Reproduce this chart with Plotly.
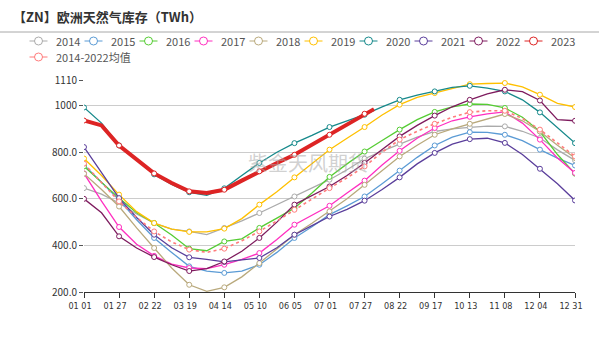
import plotly.graph_objects as go

# ---------------- data ----------------
days = list(range(0, 365, 13))          # day-of-year grid (0..364)
tick_days = list(range(0, 365, 26))
tick_labels = ["01 01", "01 27", "02 22", "03 19", "04 14", "05 10", "06 05", "07 01",
               "07 27", "08 22", "09 17", "10 13", "11 08", "12 04", "12 31"]
y_ticks = [200, 400, 600, 800, 1000, 1110]
y_tick_labels = ["200.0", "400.0", "600.0", "800.0", "1000", "1110"]

s2014 = [646, 620, 582, 535, 496, 470, 460, 446, 475, 505, 539, 575, 610, 645, 682, 725, 772, 805, 835, 865, 889, 900, 907, 912, 911, 890, 861, 810, 765]
s2015 = [745, 670, 596, 510, 432, 370, 310, 290, 282, 290, 317, 370, 432, 480, 532, 570, 610, 665, 721, 778, 829, 865, 886, 885, 875, 850, 811, 775, 743]
s2016 = [739, 670, 603, 540, 496, 445, 386, 377, 417, 428, 475, 517, 560, 625, 694, 750, 803, 850, 897, 940, 973, 995, 1007, 1005, 990, 950, 889, 790, 708]
s2017 = [709, 590, 479, 405, 355, 320, 303, 300, 317, 340, 367, 425, 489, 530, 570, 625, 678, 745, 806, 860, 904, 935, 952, 965, 973, 925, 854, 775, 711]
s2018 = [708, 640, 567, 475, 389, 303, 231, 203, 220, 265, 324, 385, 446, 495, 546, 600, 660, 720, 782, 830, 875, 900, 922, 945, 964, 935, 889, 830, 775]
s2019 = [773, 700, 618, 545, 496, 470, 458, 458, 472, 515, 575, 630, 692, 752, 811, 860, 908, 960, 1004, 1035, 1054, 1075, 1092, 1095, 1097, 1080, 1047, 1010, 994]
s2020 = [992, 925, 829, 766, 705, 662, 628, 615, 645, 700, 754, 800, 839, 872, 908, 935, 961, 995, 1025, 1045, 1061, 1078, 1085, 1075, 1061, 1025, 971, 905, 839]
s2021 = [822, 710, 603, 520, 446, 390, 349, 340, 329, 338, 346, 390, 446, 485, 524, 555, 592, 640, 692, 750, 797, 835, 856, 860, 840, 790, 729, 665, 593]
s2022 = [600, 540, 439, 389, 350, 317, 290, 300, 331, 375, 432, 500, 575, 615, 653, 700, 754, 812, 868, 915, 957, 995, 1025, 1050, 1068, 1060, 1022, 940, 935]
days2023 = [0, 13, 26, 39, 52, 65, 78, 91, 104, 117, 130, 143, 156, 169, 182, 195, 208, 215]
s2023 = [936, 915, 829, 768, 709, 668, 632, 625, 639, 678, 718, 754, 789, 832, 875, 918, 965, 985]
s_avg = [751, 670, 589, 520, 460, 415, 382, 370, 386, 420, 460, 505, 553, 600, 646, 690, 739, 800, 854, 890, 922, 950, 972, 978, 978, 945, 897, 840, 782]

names = ["2014", "2015", "2016", "2017", "2018", "2019", "2020", "2021", "2022", "2023", "2014-2022均值"]
colors = ["#ababab", "#5b9bd5", "#55cc33", "#ff2fc0", "#b9a97c", "#ffc000",
          "#16898b", "#5a3e9b", "#7e1b5e", "#dd2424", "#ff7b7b"]

# ---------------- figure ----------------
W, H = 607, 343
ML, MR, MT, MB = 84, 32, 80, 51
PW, PH = W - ML - MR, H - MT - MB


def px(x):
    return (x - ML) / PW


def py(y):
    return (H - MB - y) / PH


fig = go.Figure()

series = [(days, s2014), (days, s2015), (days, s2016), (days, s2017), (days, s2018),
          (days, s2019), (days, s2020), (days, s2021), (days, s2022), (days2023, s2023),
          (days, s_avg)]

for i, (xs, ys) in enumerate(series):
    name = names[i]
    col = colors[i]
    width = 1.3
    dash = "solid"
    if name == "2023":
        width = 4
    if i == 10:
        dash = "dot"
        width = 1.6
    op = [1 if (d % 26 == 0) else 0 for d in xs]
    fig.add_trace(go.Scatter(
        x=xs, y=ys, name=name, mode="lines+markers",
        line=dict(color=col, width=width, dash=dash),
        marker=dict(symbol="circle", size=5, color="white", opacity=op,
                    line=dict(color=col, width=1)),
        showlegend=False,
    ))

shapes = []
annotations = []

# title and separator line
annotations.append(dict(x=px(11), y=py(16), xref="paper", yref="paper", xanchor="left", yanchor="middle",
                        text="<b>【ZN】欧洲天然气库存（TWh）</b>", showarrow=False,
                        font=dict(size=13, color="#333333", family="Noto Sans CJK SC")))
shapes.append(dict(type="line", xref="paper", yref="paper", x0=px(0), x1=px(599), y0=py(32), y1=py(32),
                   line=dict(color="#a8a8a8", width=1)))

# legend (manual, two rows)
for i, name in enumerate(names):
    row = 0 if i < 10 else 1
    col_i = i if i < 10 else 0
    cx = 38.5 + 55 * col_i
    cy = 41 + 16 * row
    c = colors[i]
    shapes.append(dict(type="line", xref="paper", yref="paper", x0=px(cx - 9), x1=px(cx + 9),
                       y0=py(cy), y1=py(cy), line=dict(color=c, width=1)))
    shapes.append(dict(type="circle", xref="paper", yref="paper", x0=px(cx - 4), x1=px(cx + 4),
                       y0=py(cy + 4), y1=py(cy - 4), fillcolor="white", line=dict(color=c, width=1)))
    annotations.append(dict(x=px(cx + 15), y=py(cy), xref="paper", yref="paper", xanchor="left",
                            yanchor="middle", text=name, showarrow=False,
                            font=dict(size=11, color="#555555", family="Noto Sans CJK SC")))

# watermark
annotations.append(dict(x=px(308), y=py(162), xref="paper", yref="paper", text="紫金天风期货",
                        showarrow=False, font=dict(size=20, color="rgba(170,170,170,0.55)",
                                                   family="Noto Sans CJK SC")))

fig.update_layout(
    width=W, height=H,
    margin=dict(l=ML, r=MR, t=MT, b=MB),
    paper_bgcolor="white", plot_bgcolor="white",
    shapes=shapes, annotations=annotations,
    showlegend=False,
    font=dict(family="Noto Sans CJK SC", color="#333333"),
)
fig.update_xaxes(
    range=[0, 364], tickvals=tick_days, ticktext=tick_labels,
    showgrid=False, showline=True, linecolor="#333333", linewidth=1,
    ticks="outside", ticklen=5, tickcolor="#333333", ticklabelshift=-4,
    tickfont=dict(size=9, color="#333333", family="Liberation Sans Narrow, DejaVu Sans Condensed, Roboto"),
    zeroline=False, fixedrange=True,
)
fig.update_yaxes(
    range=[200, 1110], tickvals=y_ticks, ticktext=y_tick_labels,
    showgrid=True, gridcolor="#cccccc", gridwidth=1, showline=False,
    ticks="outside", ticklen=4, tickcolor="#555555",
    tickfont=dict(size=10, color="#333333", family="Noto Sans CJK SC"),
    zeroline=False, fixedrange=True,
)

fig.write_html("out.html")
